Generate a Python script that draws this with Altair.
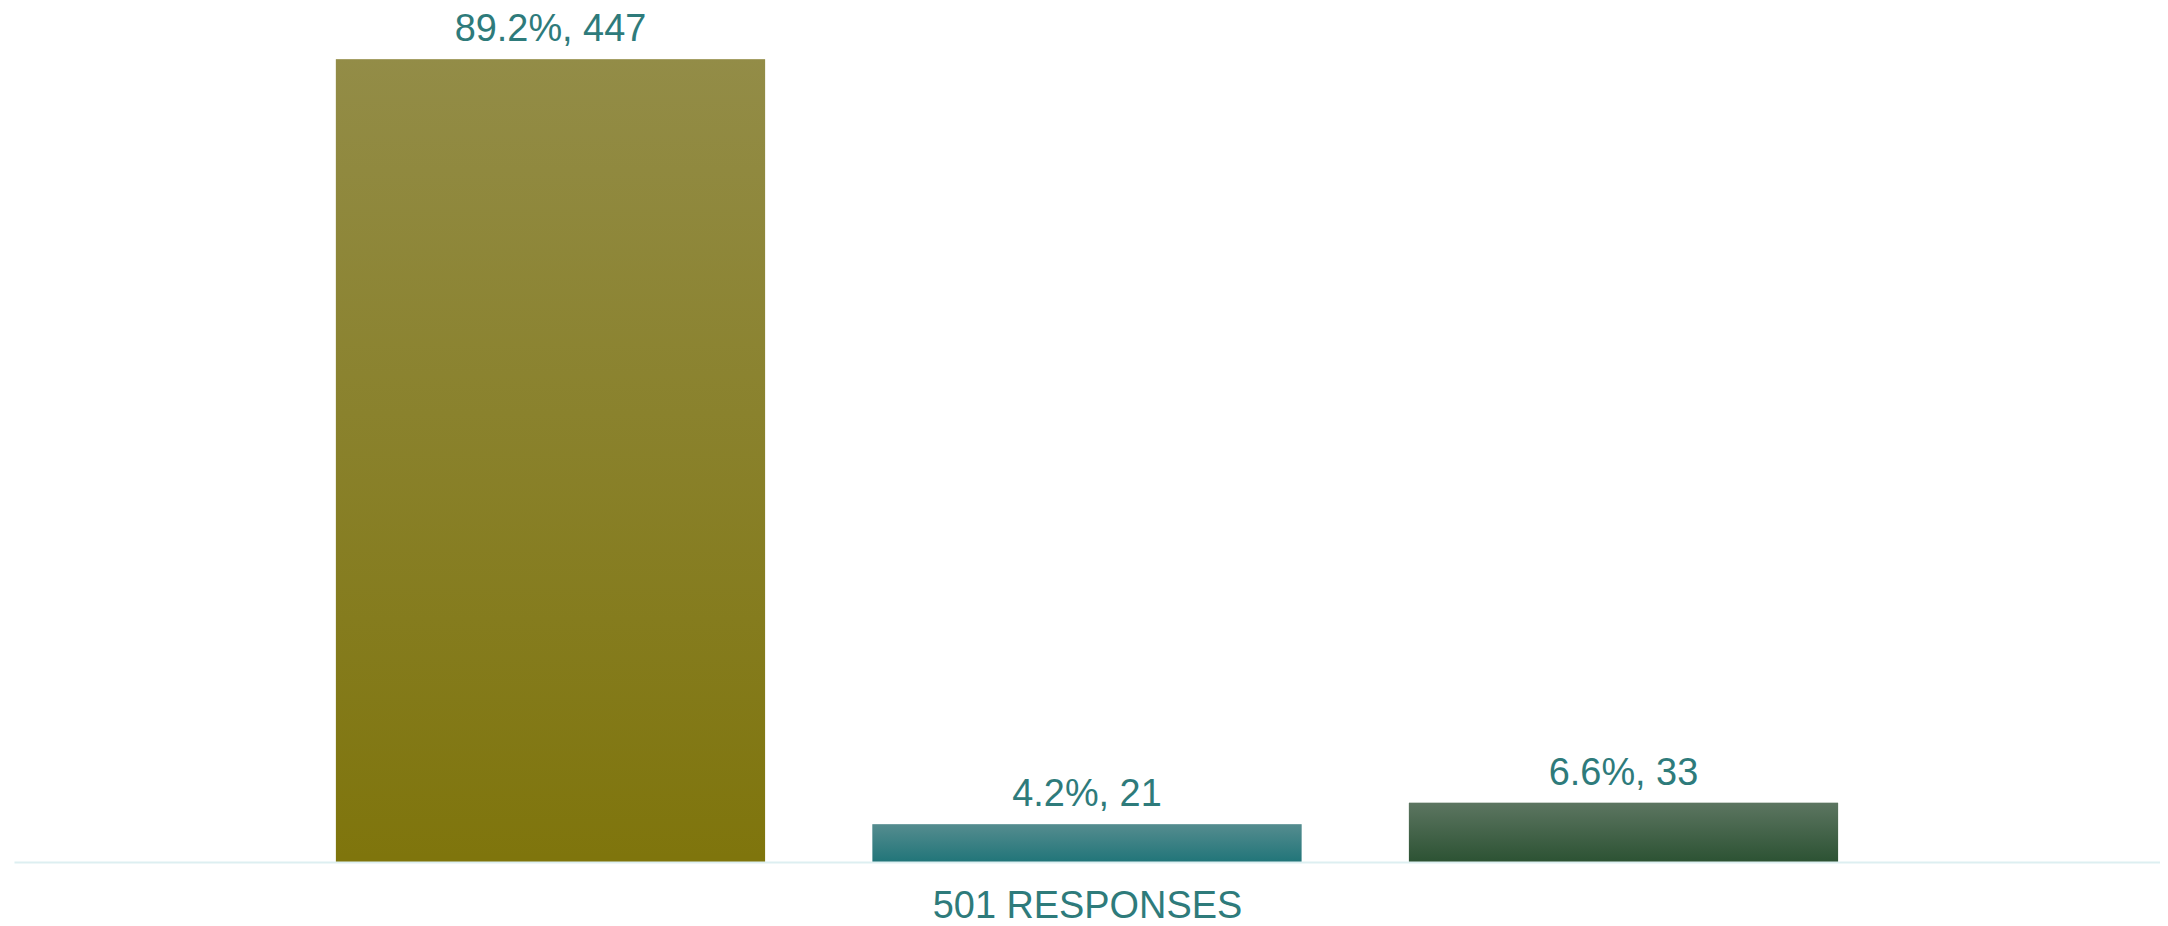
import altair as alt
import pandas as pd

categories = ["Option A", "Option B", "Option C"]
percents = [89.2, 4.2, 6.6]
counts = [447, 21, 33]
bar_colors = ["#7f750c", "#217579", "#2c5233"]
total_label = "501 RESPONSES"

FONT = "Liberation Sans, Arial, Helvetica, sans-serif"
TEXT_COLOR = "#2e7b7b"

df = pd.DataFrame({"category": categories, "percent": percents, "count": counts})

x = alt.X(
    "category:N",
    sort=categories,
    scale=alt.Scale(paddingInner=0.2, paddingOuter=0.6),
    axis=alt.Axis(
        title=total_label,
        labels=False,
        ticks=False,
        domainColor="#ddeff1",
        domainWidth=2,
        titleFontSize=38,
        titleColor=TEXT_COLOR,
        titleFont=FONT,
        titleFontWeight="normal",
        titlePadding=26,
        zindex=1,
    ),
)
y = alt.Y("count:Q", scale=alt.Scale(nice=False, zero=True), axis=None)

base = alt.Chart(df).encode(x=x, y=y)

bars = base.mark_bar().encode(
    color=alt.Color(
        "category:N",
        scale=alt.Scale(domain=categories, range=bar_colors),
        legend=None,
    )
)

shine = base.mark_bar(
    color=alt.Gradient(
        gradient="linear",
        x1=0, y1=0, x2=0, y2=1,
        stops=[
            alt.GradientStop(color="rgba(185,185,185,0.34)", offset=0),
            alt.GradientStop(color="rgba(185,185,185,0)", offset=1),
        ],
    )
)

labels = base.mark_text(
    dy=-18,
    baseline="alphabetic",
    fontSize=38,
    color=TEXT_COLOR,
    font=FONT,
).transform_calculate(
    label="format(datum.percent, '.1f') + '%, ' + datum.count"
).encode(text="label:N")

chart = (
    alt.layer(bars, shine, labels)
    .properties(
        width=2152,
        height=805,
        autosize=alt.AutoSizeParams(type="none"),
        padding={"left": 6, "top": 50, "right": 0, "bottom": 66},
    )
    .configure_view(stroke=None)
)

chart.save("out.html", embed_options={"renderer": "svg", "actions": False})
